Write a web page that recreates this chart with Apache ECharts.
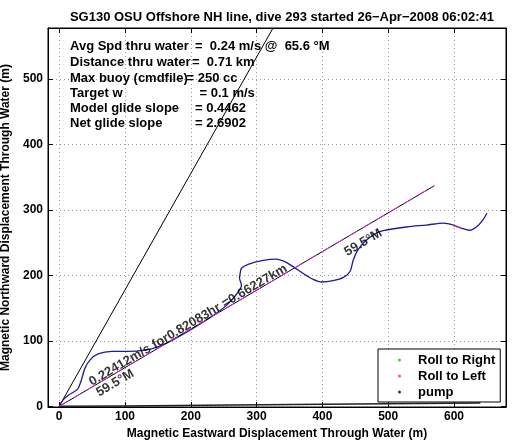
<!DOCTYPE html>
<html><head><meta charset="utf-8">
<script src="https://cdn.jsdelivr.net/npm/echarts@6/dist/echarts.min.js"></script>
<style>html,body{margin:0;padding:0;background:#fff}#c{width:514px;height:442px}</style>
</head><body><div id="c"></div>
<script>
// ---- data ----
const titleText = 'SG130 OSU Offshore NH line, dive 293 started 26\u2212Apr\u22122008 06:02:41';
const xName = 'Magnetic Eastward Displacement Through Water (m)';
const yName = 'Magnetic Northward Displacement Through Water (m)';
const xRange = [-17, 679];
const yRange = [-1, 578];

const trackX = [0, 6, 14, 24, 29, 34, 39, 47, 59, 80, 105, 130, 150, 170, 200, 230, 255, 270, 277, 274, 275, 277, 287, 310, 330, 343, 356, 371, 386, 399, 416, 432, 442, 447, 454, 467, 487, 528, 558, 584, 599, 612, 624, 634, 644, 650];
const trackY = [0, 10, 17, 23, 28, 41, 58, 71, 80, 84, 84, 86, 91, 100, 117, 136, 155, 172, 185, 196, 203, 211, 217, 223, 225, 221, 213, 203, 194, 190, 192, 197, 206, 224, 239, 254, 267, 274, 277, 280, 277, 272, 269, 274, 285, 295];

const headingX = [0, 570];
const headingY = [0, 337];

const steepX = [0, 325];
const steepY = [0, 578];

const bottomX = [0, 100, 260, 450, 640];
const bottomY = [0, 0.5, 2, 3.5, 5];

const rollLeftX = [600, 605, 610];
const rollLeftY = [276, 274, 272];

const legendNames = ['Roll to Right', 'Roll to Left', 'pump'];

const infoLabels = ['Avg Spd thru water', 'Distance thru water', 'Max buoy (cmdfile)', 'Target w', 'Model glide slope', 'Net glide slope'];
const infoValues = ['=  0.24 m/s @  65.6 \u00b0M', '=  0.71 km', '= 250 cc', '= 0.1 m/s', '= 0.4462', '= 2.6902'];

const noteTexts = ['0.22412m/s for0.82083hr =0.66227km', '59.5\u00b0M', '59.5\u00b0M'];
const notePts = [[196, 124], [85, 35.5], [462, 250]];

// ---- layout / style ----
const FONT = '"Liberation Sans", Arial, Helvetica, sans-serif';
const infoValueX = [195, 192, 186.5, 199.5, 195, 195];
const infoY = [46.7, 62.3, 78, 93.7, 108.7, 123.7];

const zip = (a, b) => a.map((v, i) => [v, b[i]]);

const graphics = [];
infoLabels.forEach((t, i) => {
  graphics.push({type: 'text', x: 70, y: infoY[i], z: 100, style: {text: t, font: 'bold 13px ' + FONT, fill: '#000', verticalAlign: 'middle'}});
  graphics.push({type: 'text', x: infoValueX[i], y: infoY[i], z: 100, style: {text: infoValues[i], font: 'bold 13px ' + FONT, fill: '#000', verticalAlign: 'middle'}});
});

const labelStyle = {fontFamily: FONT, fontWeight: 'bold', fontSize: 12, color: '#000'};

const chart = echarts.init(document.getElementById('c'), null, {renderer: 'canvas'});
chart.setOption({
  animation: false,
  backgroundColor: '#fff',
  title: {text: titleText, left: 277, textAlign: 'center', top: 6,
    textStyle: {fontFamily: FONT, fontWeight: 'bold', fontSize: 13, color: '#000'}},
  grid: {left: 48, right: 8, top: 28, bottom: 35, containLabel: false, outerBoundsMode: 'none',
    show: true, borderColor: '#000', borderWidth: 1, backgroundColor: 'transparent'},
  legend: {
    data: legendNames, orient: 'vertical', left: 378, top: 349,
    backgroundColor: '#fff', borderColor: '#000', borderWidth: 1, borderRadius: 0,
    padding: [3, 5, 2, 20], itemGap: 0, itemWidth: 3, itemHeight: 3, icon: 'circle',
    textStyle: {fontFamily: FONT, fontWeight: 'bold', fontSize: 13, color: '#000', lineHeight: 16, padding: [0, 0, 0, 12]}
  },
  xAxis: [
    {
      type: 'value', min: xRange[0], max: xRange[1], position: 'bottom',
      name: xName, nameLocation: 'middle', nameGap: 19, nameTextStyle: labelStyle,
      axisLine: {show: true, onZero: false, lineStyle: {color: '#000', width: 1}},
      axisTick: {show: true, inside: true, length: 5, lineStyle: {color: '#000'}},
      axisLabel: Object.assign({margin: 4, showMinLabel: false, showMaxLabel: false}, labelStyle),
      splitLine: {show: true, lineStyle: {color: '#999', width: 1, type: [1, 3], dashOffset: 0}}
    },
    {
      type: 'value', min: xRange[0], max: xRange[1], position: 'top',
      axisLine: {show: true, onZero: false, lineStyle: {color: '#000', width: 1}},
      axisTick: {show: true, inside: true, length: 5, lineStyle: {color: '#000'}},
      axisLabel: {show: false}, splitLine: {show: false}
    }
  ],
  yAxis: [
    {
      type: 'value', min: yRange[0], max: yRange[1], position: 'left',
      name: yName, nameLocation: 'middle', nameGap: 30, nameTextStyle: labelStyle,
      axisLine: {show: true, onZero: false, lineStyle: {color: '#000', width: 1}},
      axisTick: {show: true, inside: true, length: 5, lineStyle: {color: '#000'}},
      axisLabel: Object.assign({margin: 5, showMinLabel: false, showMaxLabel: false}, labelStyle),
      splitLine: {show: true, lineStyle: {color: '#999', width: 1, type: [1, 3], dashOffset: 0}}
    },
    {
      type: 'value', min: yRange[0], max: yRange[1], position: 'right',
      axisLine: {show: true, onZero: false, lineStyle: {color: '#000', width: 1}},
      axisTick: {show: true, inside: true, length: 5, lineStyle: {color: '#000'}},
      axisLabel: {show: false}, splitLine: {show: false}
    }
  ],
  series: [
    {name: 'steep', type: 'line', data: zip(steepX, steepY), showSymbol: false, lineStyle: {color: '#000', width: 1}, clip: true, z: 3},
    {name: 'bottom', type: 'line', data: zip(bottomX, bottomY), showSymbol: false, lineStyle: {color: '#222', width: 1.5}, z: 3},
    {name: 'track', type: 'line', data: zip(trackX, trackY), showSymbol: false, smooth: 0.3, lineStyle: {color: '#1c1c9c', width: 1.3}, z: 4},
    {name: 'headingBlack', type: 'line', data: zip(headingX, headingY), showSymbol: false, lineStyle: {color: '#000', width: 1}, z: 5},
    {name: 'headingMag', type: 'line', data: zip(headingX, headingY), showSymbol: false, lineStyle: {color: '#e020e0', width: 1, type: [10, 6]}, z: 6},
    {name: 'Roll to Right', type: 'scatter', data: [], symbolSize: 3, itemStyle: {color: '#00cc00'}},
    {name: 'Roll to Left', type: 'scatter', data: zip(rollLeftX, rollLeftY), symbolSize: 2, itemStyle: {color: '#ff3030'}, z: 7},
    {name: 'pump', type: 'scatter', data: [], symbolSize: 3, itemStyle: {color: '#000'}},
    {name: 'notes', type: 'scatter', symbolSize: 0, silent: true, z: 10,
      data: notePts.map((p, i) => ({value: p, label: {formatter: noteTexts[i]}})),
      label: {show: true, position: 'inside', rotate: 30.5, fontFamily: FONT, fontWeight: 'bold', fontSize: 13, color: '#000'}}
  ],
  graphic: graphics
});
</script></body></html>
